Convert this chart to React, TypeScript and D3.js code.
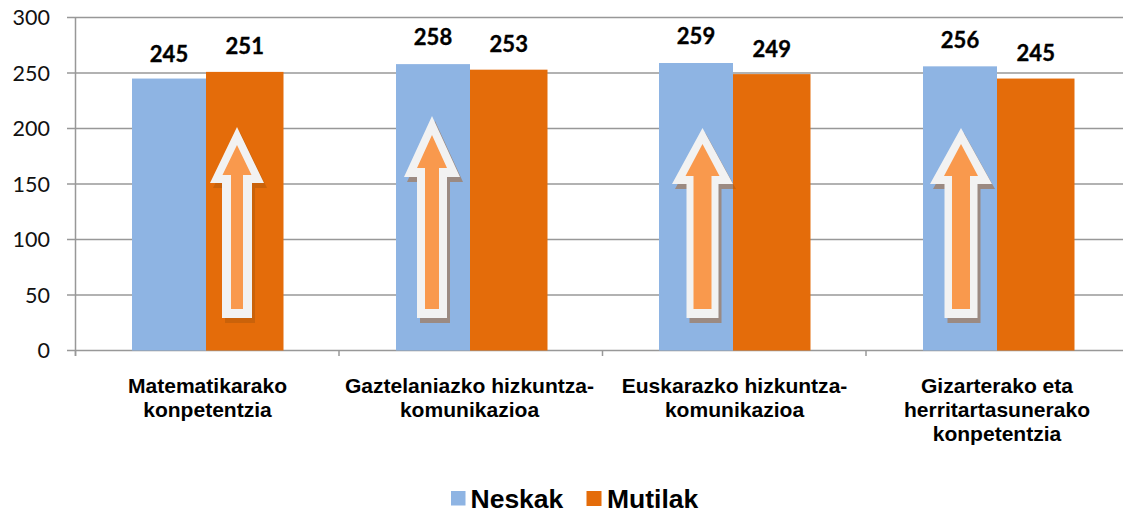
import React from "react";
import * as d3 from "d3";

const categories = [
  ["Matematikarako", "konpetentzia"],
  ["Gaztelaniazko hizkuntza-", "komunikazioa"],
  ["Euskarazko hizkuntza-", "komunikazioa"],
  ["Gizarterako eta", "herritartasunerako", "konpetentzia"],
];
const neskak = [245, 258, 259, 256];
const mutilak = [251, 253, 249, 245];
const yTicks = [0, 50, 100, 150, 200, 250, 300];
const seriesNames = ["Neskak", "Mutilak"];
const BLUE = "#8EB4E3";
const ORANGE = "#E46C0A";

// Arrow annotations
const arrowCx = [237, 432, 702.5, 961];
const arrowTip = [127, 116, 128, 128];
const arrowBase = [183, 177, 184, 184];
const arrowHeadHalf = [27, 28, 30.5, 31];
const arrowShaftHalf = [15, 15, 16, 16.5];
const innerTip = [145, 135, 144, 144];
const innerBase = [175, 168, 176, 176];
const innerHeadHalf = [14.5, 15, 17, 17];
const innerShaftHalf = [6, 7, 9, 9];

function arrowPath(cx: number, tip: number, head: number, shaft: number, baseY: number, bottom: number) {
  return d3.line()([
    [cx, tip], [cx + head, baseY], [cx + shaft, baseY], [cx + shaft, bottom],
    [cx - shaft, bottom], [cx - shaft, baseY], [cx - head, baseY],
  ]) + "Z";
}

export default function App() {
  const x = d3.scaleBand<number>().domain([0, 1, 2, 3]).range([75.5, 1129.5]).padding(0);
  const y = d3.scaleLinear().domain([0, 300]).range([350.5, 17.5]);
  const gridLeft = 67;
  const sans = "'Liberation Sans', Arial, sans-serif";
  const num = "Lato, sans-serif";
  const blueL = [56.5, 57, 56.5, 57];
  const bw = 74;
  const ow = 77.5;
  const nOff = [16.5, 19, 19, 18];
  const mOff = [18, 18, 17, 17.5];
  const catX = [207.5, 469.5, 734.5, 997];

  return (
    <svg width={1123} height={514} style={{ position: "absolute", left: 0, top: 0, background: "#fff" }}>
      {yTicks.map((t) => (
        <g key={t}>
          <line x1={gridLeft} x2={1123} y1={y(t)} y2={y(t)} stroke="#989898" strokeWidth={1.5} />
          <text x={50} y={y(t) + 7.5} textAnchor="end" fontFamily={num} fontSize={21.5} fill="#111">{t}</text>
        </g>
      ))}
      <line x1={75.5} x2={75.5} y1={17.5} y2={356} stroke="#989898" strokeWidth={1.5} />
      {[0, 1, 2, 3].map((i) => {
        const x0 = x(i)! + blueL[i];
        return (
          <g key={i}>
            <rect x={x0} y={y(neskak[i])} width={bw} height={y(0) - y(neskak[i])} fill={BLUE} />
            <rect x={x0 + bw} y={y(mutilak[i])} width={ow} height={y(0) - y(mutilak[i])} fill={ORANGE} />
            <text x={x0 + bw / 2} y={y(neskak[i]) - nOff[i]} textAnchor="middle" fontFamily={num} fontWeight={700} fontSize={22} stroke="#000" strokeWidth={0.35} fill="#000">{neskak[i]}</text>
            <text x={x0 + bw + ow / 2} y={y(mutilak[i]) - mOff[i]} textAnchor="middle" fontFamily={num} fontWeight={700} fontSize={22} stroke="#000" strokeWidth={0.35} fill="#000">{mutilak[i]}</text>
          </g>
        );
      })}
      {[0, 1, 2, 3, 4].map((i) => {
        const tx = i < 4 ? x(i)! : 1129.5;
        return <line key={i} x1={tx} x2={tx} y1={350} y2={356} stroke="#989898" strokeWidth={1.5} />;
      })}
      {arrowCx.map((cx, i) => {
        const outer = arrowPath(cx, arrowTip[i], arrowHeadHalf[i], arrowShaftHalf[i], arrowBase[i], 318);
        const inner = arrowPath(cx, innerTip[i], innerHeadHalf[i], innerShaftHalf[i], innerBase[i], 309);
        return (
          <g key={i}>
            <path d={outer} transform="translate(3,5)" fill="rgb(171,87,11)" fillOpacity={0.45} />
            <path d={outer} fill="#F2F2F2" />
            <path d={inner} fill="#F9994D" />
          </g>
        );
      })}
      {categories.map((lines, i) => (
        <g key={i} transform={`translate(${catX[i]},0) scale(1.08,1)`}>
          <text textAnchor="middle" fontFamily={sans} fontWeight={700} fontSize={19.5} fill="#000">
            {lines.map((l, j) => (
              <tspan key={j} x={0} y={393 + j * 24}>{l}</tspan>
            ))}
          </text>
        </g>
      ))}
      <rect x={451} y={491} width={14.5} height={14.5} fill={BLUE} />
      <text x={470.5} y={508} fontFamily={sans} fontWeight={700} fontSize={26.5} fill="#000">{seriesNames[0]}</text>
      <rect x={586.5} y={491} width={15} height={15} fill={ORANGE} />
      <text x={607} y={508} fontFamily={sans} fontWeight={700} fontSize={26.5} fill="#000">{seriesNames[1]}</text>
    </svg>
  );
}
